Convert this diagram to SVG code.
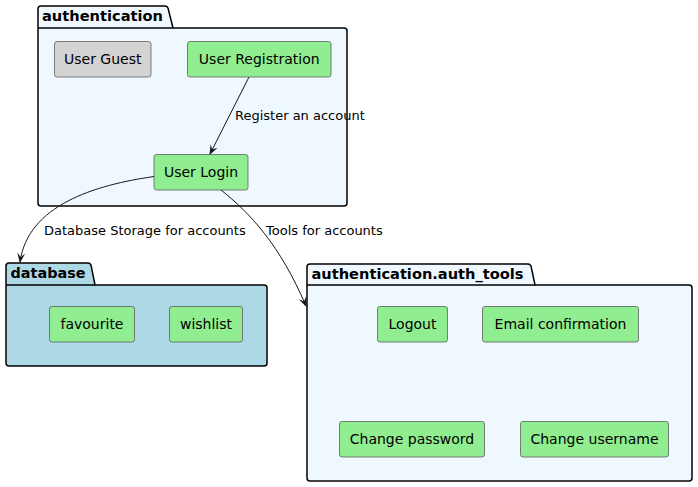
<svg xmlns="http://www.w3.org/2000/svg" width="698" height="487" viewBox="0 0 698 487">
<defs>
<style>
.pkg{stroke:#000;stroke-width:1.5;}
.node{stroke:#555;stroke-width:0.75;}
.green{fill:#90ee90;}
.gray{fill:#d3d3d3;}
.t{font-family:"DejaVu Sans",sans-serif;font-size:14px;fill:#000;text-anchor:middle;}
.pt{font-family:"DejaVu Sans",sans-serif;font-size:14px;font-weight:bold;fill:#000;}
.lbl{font-family:"DejaVu Sans",sans-serif;font-size:13px;fill:#000;}
.edge{fill:none;stroke:#181818;stroke-width:1;}
</style>
<marker id="arr" viewBox="0 0 10 10" refX="9" refY="5" markerWidth="10" markerHeight="10" orient="auto" markerUnits="userSpaceOnUse">
<path d="M0,1 L10,5 L0,9 L4,5 Z" fill="#181818"/>
</marker>
</defs>
<rect width="698" height="487" fill="#fff"/>

<g id="pkg-authentication">
<path class="pkg" fill="#f0f8ff" d="M41,6 L165,6 Q167,6 168,8 L173,28 L344,28 Q347,28 347,31 L347,203 Q347,206 344,206 L41,206 Q38,206 38,203 L38,9 Q38,6 41,6 Z"/>
<line class="pkg" x1="38" y1="28" x2="173" y2="28"/>
<text class="pt" x="42" y="21" textLength="121" lengthAdjust="spacingAndGlyphs">authentication</text>
</g>

<g id="pkg-database">
<path class="pkg" fill="#add8e6" d="M9,263 L88,263 Q90,263 91,265 L95,285 L264,285 Q267,285 267,288 L267,363 Q267,366 264,366 L9,366 Q6,366 6,363 L6,266 Q6,263 9,263 Z"/>
<line class="pkg" x1="6" y1="285" x2="95" y2="285"/>
<text class="pt" x="10.5" y="278" textLength="75" lengthAdjust="spacingAndGlyphs">database</text>
</g>

<g id="pkg-auth_tools">
<path class="pkg" fill="#f0f8ff" d="M310,264 L528,264 Q530,264 531,266 L535,285 L689,285 Q692,285 692,288 L692,478 Q692,481 689,481 L310,481 Q307,481 307,478 L307,267 Q307,264 310,264 Z"/>
<line class="pkg" x1="307" y1="285" x2="535" y2="285"/>
<text class="pt" x="311.5" y="279" textLength="212" lengthAdjust="spacingAndGlyphs">authentication.auth_tools</text>
</g>

<g id="node-user-guest">
<rect class="node gray" x="54.5" y="41.5" width="96.5" height="35.5" rx="2.5"/>
<text class="t" x="102.75" y="64">User Guest</text>
</g>
<g id="node-user-registration">
<rect class="node green" x="187.5" y="41.5" width="143.5" height="35.5" rx="2.5"/>
<text class="t" x="259.25" y="64">User Registration</text>
</g>
<g id="node-user-login">
<rect class="node green" x="154" y="154.5" width="94" height="35.5" rx="2.5"/>
<text class="t" x="201" y="177">User Login</text>
</g>
<g id="node-favourite">
<rect class="node green" x="49.5" y="306.5" width="85" height="35.5" rx="2.5"/>
<text class="t" x="92" y="329">favourite</text>
</g>
<g id="node-wishlist">
<rect class="node green" x="169.5" y="306.5" width="73" height="35.5" rx="2.5"/>
<text class="t" x="206" y="329">wishlist</text>
</g>
<g id="node-logout">
<rect class="node green" x="377.5" y="306.5" width="70" height="35.5" rx="2.5"/>
<text class="t" x="412.5" y="329">Logout</text>
</g>
<g id="node-email-confirmation">
<rect class="node green" x="482.5" y="306.5" width="156" height="35.5" rx="2.5"/>
<text class="t" x="560.5" y="329">Email confirmation</text>
</g>
<g id="node-change-password">
<rect class="node green" x="339.5" y="421.5" width="145" height="35.5" rx="2.5"/>
<text class="t" x="412" y="444">Change password</text>
</g>
<g id="node-change-username">
<rect class="node green" x="520.5" y="421.5" width="148" height="35.5" rx="2.5"/>
<text class="t" x="594.5" y="444">Change username</text>
</g>

<g id="connectors">
<path class="edge" d="M249,77 L210,154" marker-end="url(#arr)"/>
<text class="lbl" x="235" y="120">Register an account</text>
<path class="edge" d="M154,176.5 C95,185 28,205 20,262" marker-end="url(#arr)"/>
<text class="lbl" x="44" y="235">Database Storage for accounts</text>
<path class="edge" d="M221,190 C250,213 280,245 306,306" marker-end="url(#arr)"/>
<text class="lbl" x="266" y="235">Tools for accounts</text>
</g>
</svg>
